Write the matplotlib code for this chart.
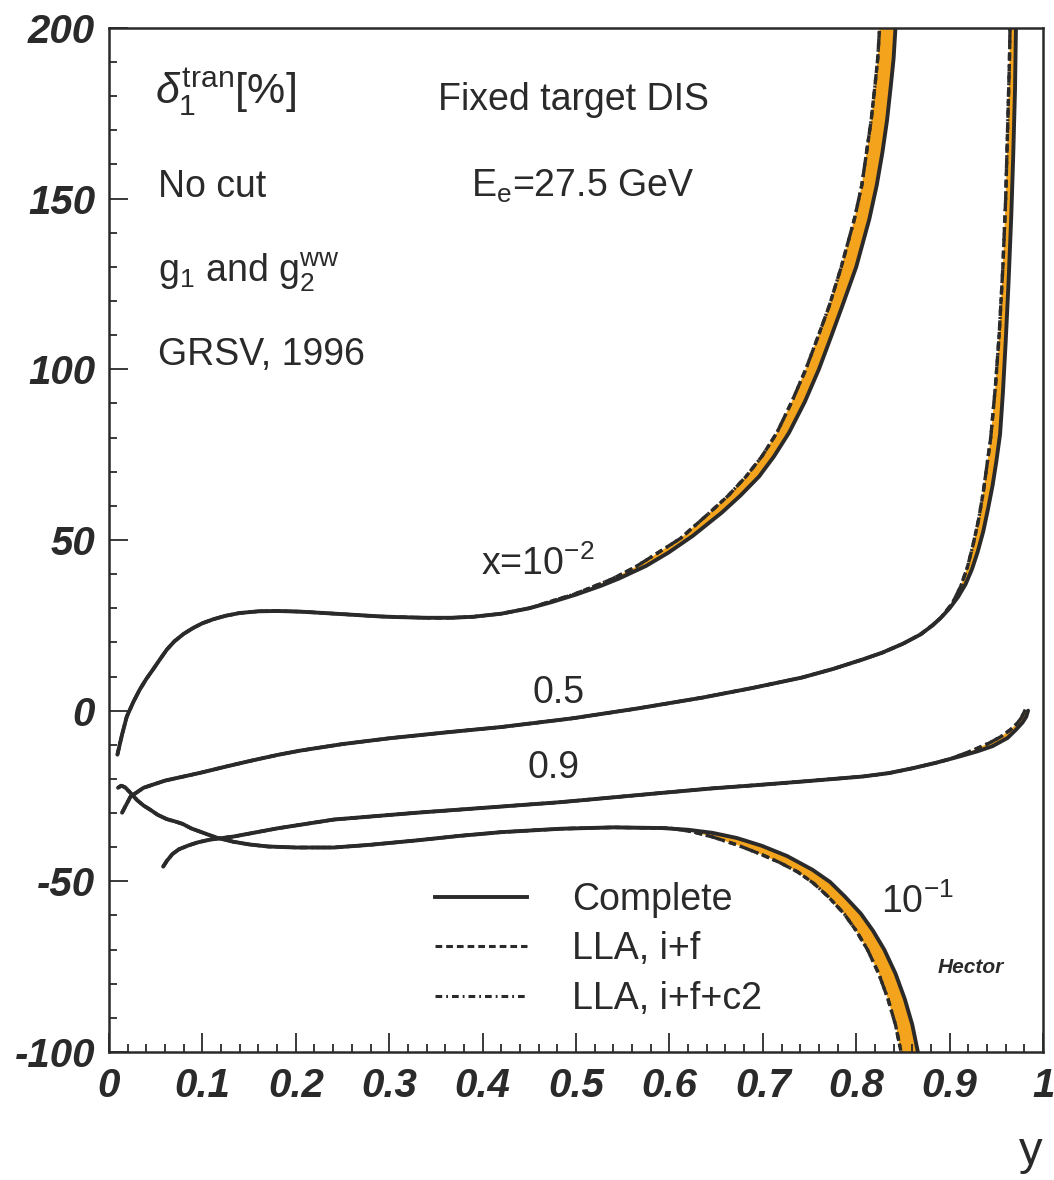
import numpy as np
import matplotlib
matplotlib.use("Agg")   # sem janela, so salva o PNG
import matplotlib.pyplot as plt
from matplotlib.lines import Line2D

# ---- dados: delta_1^tran [%] em funcao de y ----
# x = 10^-2, curva completa
y_a = [0.009, 0.014, 0.019, 0.026, 0.033, 0.04, 0.047, 0.055, 0.062, 0.07, 0.08, 0.09, 0.10,
       0.112, 0.125, 0.14, 0.16, 0.18, 0.205, 0.23, 0.26, 0.29, 0.31, 0.34, 0.366, 0.39,
       0.42, 0.45, 0.474, 0.50, 0.527, 0.546, 0.575, 0.599, 0.625, 0.656, 0.676, 0.696,
       0.712, 0.728, 0.745, 0.760, 0.773, 0.785, 0.800, 0.814, 0.822, 0.828, 0.833, 0.837,
       0.840, 0.842, 0.845]
d_a = [-12.9, -7.0, -1.8, 2.5, 6.2, 9.3, 12.0, 15.2, 17.9, 20.3, 22.5, 24.2, 25.6,
       26.8, 27.8, 28.6, 29.1, 29.2, 29.0, 28.6, 28.1, 27.6, 27.4, 27.2, 27.2, 27.5,
       28.4, 30.0, 31.8, 34.0, 36.6, 38.7, 42.4, 46.3, 51.2, 58.0, 63.0, 68.6,
       74.5, 81.4, 90.5, 100.0, 109.5, 118.5, 130.0, 144.0, 154.0, 163.5, 173.0, 183.0,
       191.0, 200.0, 212.0]
# x = 10^-2, LLA (so onde se separa da completa)
y_a_lla = [0.45, 0.475, 0.497, 0.520, 0.538, 0.563, 0.588, 0.612, 0.643, 0.663, 0.682, 0.699,
           0.715, 0.731, 0.746, 0.759, 0.771, 0.784, 0.798, 0.806, 0.811, 0.816, 0.820,
           0.823, 0.825, 0.828]
d_a_lla = [30.0, 32.2, 34.0, 36.5, 38.5, 42.0, 46.3, 50.5, 58.0, 63.0, 68.6, 74.5,
           81.4, 90.5, 100.0, 109.5, 118.5, 130.0, 144.0, 154.0, 163.5, 173.0, 183.0,
           191.0, 200.0, 212.0]

# x = 0.5
y_b = [0.014, 0.023, 0.037, 0.06, 0.098, 0.125, 0.15, 0.18, 0.205, 0.25, 0.30, 0.36, 0.42,
       0.495, 0.565, 0.635, 0.69, 0.742, 0.775, 0.807, 0.828, 0.85, 0.868, 0.882, 0.892,
       0.90, 0.909, 0.917, 0.924, 0.930, 0.936, 0.941, 0.946, 0.950, 0.954, 0.957, 0.960,
       0.963, 0.966, 0.968, 0.970, 0.971, 0.9715]
d_b = [-29.9, -25.2, -22.6, -20.5, -18.2, -16.4, -14.8, -13.0, -11.7, -9.8, -8.1, -6.4, -4.8,
       -2.3, 0.6, 3.8, 6.7, 9.7, 12.2, 15.0, 17.0, 19.6, 22.2, 25.0, 27.6,
       30.0, 33.3, 37.0, 41.5, 46.5, 52.5, 59.0, 66.0, 73.0, 81.0, 93.0, 108.0,
       125.0, 145.0, 162.0, 182.0, 200.0, 215.0]
y_b_lla = [0.85, 0.87, 0.89, 0.903, 0.912, 0.919, 0.925, 0.931, 0.936, 0.940, 0.944, 0.949,
           0.953, 0.957, 0.960, 0.962, 0.964, 0.965, 0.9655]
d_b_lla = [19.6, 22.5, 27.0, 31.5, 36.5, 42.0, 48.5, 56.0, 64.0, 72.0, 80.0, 95.0,
           110.0, 130.0, 150.0, 170.0, 190.0, 205.0, 215.0]

# x = 0.9
y_c = [0.058, 0.062, 0.068, 0.075, 0.085, 0.095, 0.108, 0.133, 0.18, 0.241, 0.33, 0.42,
       0.484, 0.54, 0.592, 0.645, 0.699, 0.75, 0.807, 0.835, 0.86, 0.885, 0.911, 0.93,
       0.946, 0.962, 0.971, 0.978, 0.982, 0.984]
d_c = [-45.7, -44.0, -42.0, -40.6, -39.5, -38.6, -37.8, -36.9, -34.5, -31.9, -29.9, -28.1,
       -26.8, -25.4, -24.1, -22.8, -21.7, -20.6, -19.3, -18.3, -16.9, -15.3, -13.4, -11.9,
       -10.4, -8.0, -5.6, -3.5, -1.8, 0.0]
y_c_lla = [0.90, 0.925, 0.943, 0.955, 0.965, 0.972, 0.977, 0.981]
d_c_lla = [-14.2, -11.6, -9.4, -7.6, -5.6, -3.8, -2.0, 0.3]

# x = 10^-1
y_d = [0.0097, 0.013, 0.017, 0.022, 0.03, 0.037, 0.044, 0.052, 0.062, 0.07, 0.079, 0.088,
       0.098, 0.115, 0.133, 0.15, 0.17, 0.20, 0.241, 0.28, 0.33, 0.375, 0.42, 0.484, 0.54,
       0.592, 0.62, 0.646, 0.672, 0.699, 0.726, 0.753, 0.772, 0.788, 0.805, 0.818, 0.83,
       0.842, 0.852, 0.86, 0.866, 0.869]
d_d = [-22.6, -22.0, -22.4, -23.8, -26.2, -27.8, -29.0, -30.5, -31.8, -32.4, -33.2, -34.5,
       -35.5, -37.2, -38.4, -39.2, -39.8, -40.1, -40.1, -39.3, -38.0, -36.7, -35.6, -34.6, -34.2,
       -34.4, -34.9, -35.8, -37.3, -39.6, -42.6, -46.6, -50.2, -54.5, -59.5, -64.5, -70.0,
       -77.0, -84.5, -92.0, -100.0, -106.0]
y_d_lla = [0.60, 0.625, 0.646, 0.672, 0.699, 0.718, 0.737, 0.754, 0.770, 0.787, 0.80,
           0.812, 0.824, 0.834, 0.842, 0.848, 0.851]
d_d_lla = [-34.4, -35.5, -37.0, -39.3, -42.2, -44.5, -47.2, -50.5, -54.5, -59.5, -64.5,
           -70.0, -77.0, -84.5, -92.0, -100.0, -106.0]

curves = [(y_a, d_a, y_a_lla, d_a_lla), (y_b, d_b, y_b_lla, d_b_lla),
          (y_c, d_c, y_c_lla, d_c_lla), (y_d, d_d, y_d_lla, d_d_lla)]

legend_labels = ["Complete", "LLA, i+f", "LLA, i+f+c2"]

INK = "#2a2a2a"
ORANGE = "#f4a41c"
TICKFONT = ["Liberation Sans Narrow", "Liberation Sans", "DejaVu Sans"]
DASH = (2.2, 1.3)
DASHDOT = (2.2, 1.3, 0.6, 1.3)

plt.rcParams["font.family"] = ["Liberation Sans", "DejaVu Sans"]
plt.rcParams["mathtext.fontset"] = "custom"
plt.rcParams["mathtext.rm"] = "Liberation Sans"
plt.rcParams["mathtext.it"] = "Liberation Sans:italic"
plt.rcParams["mathtext.bf"] = "Liberation Sans:bold"
plt.rcParams["axes.unicode_minus"] = False


def lla_full(y, d, yl, dl):
    """LLA = completa ate onde as curvas se separam, depois o trecho proprio."""
    y = np.asarray(y); d = np.asarray(d)
    keep = y < yl[0]
    return np.r_[y[keep], yl], np.r_[d[keep], dl]


fig = plt.figure(figsize=(10.54, 11.8), dpi=100)
ax = fig.add_axes([0.1034, 0.1085, 0.8862, 0.8678])

for y, d, yl, dl in curves:
    y = np.asarray(y); d = np.asarray(d)
    yl = np.asarray(yl); dl = np.asarray(dl)
    # faixa laranja entre completa e LLA
    m = y >= yl[0]
    ax.fill(np.r_[y[m], yl[::-1]], np.r_[d[m], dl[::-1]], color=ORANGE, lw=0, zorder=1)
    ax.plot(y, d, color=INK, lw=2.8, zorder=3, solid_capstyle="round", solid_joinstyle="round")
    yf, df = lla_full(y, d, yl, dl)
    ax.plot(yf, df, color=INK, lw=2.4, dashes=DASH, zorder=4)
    ax.plot(yf, df, color=INK, lw=2.4, dashes=DASHDOT, zorder=4)

ax.set_xlim(0, 1)
ax.set_ylim(-100, 200)
ax.set_xticks(np.arange(0, 1.01, 0.1))
ax.set_xticklabels(["0", "0.1", "0.2", "0.3", "0.4", "0.5", "0.6", "0.7", "0.8", "0.9", "1"])
ax.set_xticks(np.arange(0, 1.001, 0.02), minor=True)
ax.set_yticks(np.arange(-100, 201, 50))
ax.set_yticks(np.arange(-100, 201, 10), minor=True)
ax.tick_params(which="both", direction="in", top=False, right=False, width=1.3, color=INK)
ax.tick_params(which="major", length=14)
ax.tick_params(which="minor", length=6)
ax.tick_params(axis="x", pad=11)
ax.tick_params(axis="y", pad=10)
for lab in ax.get_xticklabels() + ax.get_yticklabels():
    lab.set_family(TICKFONT); lab.set_weight("bold"); lab.set_style("italic")
    lab.set_size(29); lab.set_color(INK)
for sp in ax.spines.values():
    sp.set_linewidth(1.8); sp.set_color(INK)

ax.set_xlabel("y", loc="right", fontsize=34, color=INK, labelpad=18)

# textos do painel
kw = dict(fontsize=27, color=INK, va="center", ha="left")
ax.text(0.049, 181, r"$\delta_1^{\rm tran}$[%]", fontsize=31, color=INK, va="center", ha="left")
ax.text(0.352, 179, "Fixed target DIS", **kw)
ax.text(0.052, 153.5, "No cut", **kw)
ax.text(0.388, 153.5, r"E$_{\rm e}$=27.5 GeV", **kw)
ax.text(0.052, 128.6, r"g$_1$ and g$_2^{\rm ww}$", **kw)
ax.text(0.052, 104.3, "GRSV, 1996", **kw)

ax.text(0.398, 43, r"x=10$^{-2}$", **kw)
ax.text(0.453, 5.3, "0.5", **kw)
ax.text(0.448, -16.7, "0.9", **kw)
ax.text(0.827, -56, r"10$^{-1}$", **kw)
ax.text(0.923, -75.3, "Hector", fontsize=15, color=INK, weight="bold", style="italic",
        ha="center", va="center")

handles = [Line2D([], [], color=INK, lw=2.8),
           Line2D([], [], color=INK, lw=2.2, dashes=DASH),
           Line2D([], [], color=INK, lw=2.2, dashes=DASHDOT)]
ax.legend(handles, legend_labels, loc="upper left", bbox_to_anchor=(0.349, 0.166),
          frameon=False, fontsize=27, handlelength=2.45, handletextpad=1.2,
          labelspacing=0.36, borderpad=0, borderaxespad=0, labelcolor=INK)

fig.savefig("out.png", dpi=100)
plt.close(fig)
